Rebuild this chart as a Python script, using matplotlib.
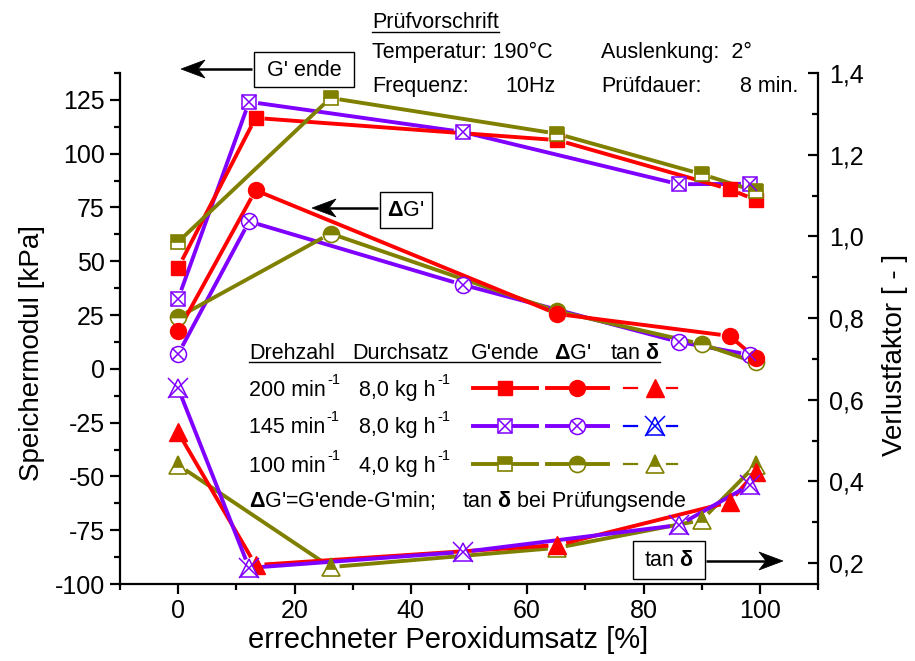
import numpy as np
import matplotlib
matplotlib.use("Agg")
import matplotlib.pyplot as plt
from matplotlib.ticker import MultipleLocator, FuncFormatter
from matplotlib.patches import Rectangle, Polygon

plt.rcParams["font.family"] = ["Liberation Sans", "DejaVu Sans"]
plt.rcParams["mathtext.fontset"] = "custom"
plt.rcParams["mathtext.rm"] = "Liberation Sans"
plt.rcParams["mathtext.bf"] = "Liberation Sans:bold"
plt.rcParams["mathtext.it"] = "Liberation Sans:italic"
plt.rcParams["axes.unicode_minus"] = False

# ---- data -------------------------------------------------------------
# peroxide conversion [%]
x_200 = [0, 13.3, 65.2, 94.8, 99.3]
x_145 = [0, 12.2, 48.9, 86.1, 98.3]
x_100 = [0, 26.2, 65.1, 90.0, 99.3]

# storage modulus at end of test, G'ende [kPa]
gende_200 = [47.0, 116.6, 106.3, 83.5, 78.5]
gende_145 = [32.6, 124.1, 110.1, 85.8, 86.0]
gende_100 = [59.0, 125.9, 109.3, 90.5, 82.5]

# Delta G' = G'ende - G'min [kPa]
dg_200 = [17.6, 83.0, 25.5, 15.3, 5.0]
dg_145 = [6.9, 68.5, 39.1, 12.5, 6.5]
dg_100 = [24.0, 62.9, 26.8, 11.5, 3.0]

# loss factor tan delta at end of test [-]
tan_200 = [0.52, 0.195, 0.244, 0.349, 0.423]
tan_145 = [0.628, 0.188, 0.227, 0.293, 0.391]
tan_100 = [0.44, 0.19, 0.237, 0.305, 0.44]

x_ticks = [0, 20, 40, 60, 80, 100]
left_ticks = [-100, -75, -50, -25, 0, 25, 50, 75, 100, 125]
right_ticks = [0.2, 0.4, 0.6, 0.8, 1.0, 1.2, 1.4]

RED = "#FF0000"
PUR = "#8000FF"
OLV = "#808000"
BLU = "#0000FF"

W, H = 915, 661
fig = plt.figure(figsize=(W / 100, H / 100), dpi=100)
ax = fig.add_axes([120 / W, 1 - 584 / H, (818 - 120) / W, (584 - 73) / H])
ax2 = ax.twinx()

ax.set_xlim(-10, 110)
ax.set_ylim(-100, 137.5)
ax2.set_ylim(0.1486, 1.4)

for s in ("top", "right"):
    ax.spines[s].set_visible(False)
for s in ("top", "left", "bottom"):
    ax2.spines[s].set_visible(False)
for a in (ax, ax2):
    for s in a.spines.values():
        s.set_linewidth(1.6)

ax.set_xticks(x_ticks)
ax.xaxis.set_minor_locator(MultipleLocator(10))
ax.set_yticks(left_ticks)
ax.yaxis.set_minor_locator(MultipleLocator(12.5))
ax.tick_params(axis="both", which="major", direction="out", length=7, width=1.6,
               labelsize=18, pad=4)
ax.tick_params(axis="both", which="minor", direction="out", length=4, width=1.6)
ax.tick_params(axis="y", which="both", right=False)

ax2.set_yticks(right_ticks)
ax2.yaxis.set_minor_locator(MultipleLocator(0.1))
ax2.yaxis.set_major_formatter(FuncFormatter(lambda v, p: f"{v:.1f}".replace(".", ",")))
ax2.tick_params(axis="y", which="major", direction="in", length=7, width=1.6,
                labelsize=18, pad=8)
ax2.tick_params(axis="y", which="minor", direction="in", length=4, width=1.6)


def gapped_line(a, xs, ys, color, lw=2.8, gap=9, z=2):
    """Connect points like Origin does: each segment stops short of its markers."""
    pts = a.transData.transform(np.column_stack([xs, ys]))
    inv = a.transData.inverted()
    for p0, p1 in zip(pts[:-1], pts[1:]):
        d = p1 - p0
        L = np.hypot(*d)
        u = d / L
        seg = inv.transform(np.array([p0 + u * gap, p1 - u * gap]))
        a.plot(seg[:, 0], seg[:, 1], color=color, lw=lw, solid_capstyle="butt",
               zorder=z)


MS = {"s": 10.5, "o": 11.5, "^": 12.5}


def markers(a, xs, ys, shape, color, style, z=3):
    ms = MS[shape]
    if style == "filled":
        a.plot(xs, ys, ls="none", marker=shape, ms=ms, mfc=color, mec=color,
               mew=1.0, zorder=z)
    elif style == "half":
        a.plot(xs, ys, ls="none", marker=shape, ms=ms, fillstyle="top", mfc=color,
               markerfacecoloralt="white", mec=color, mew=1.2, zorder=z)
    elif style == "cross":
        a.plot(xs, ys, ls="none", marker=shape, ms=ms, mfc="white", mec=color,
               mew=1.1, zorder=z)
        xs_ms = ms * (0.72 if shape == "o" else (1.15 if shape == "^" else 1.0))
        a.plot(xs, ys, ls="none", marker="x", ms=xs_ms, mec=color, mew=1.1,
               zorder=z + 0.1)


# G'ende
gapped_line(ax, x_145, gende_145, PUR)
gapped_line(ax, x_200, gende_200, RED)
gapped_line(ax, x_100, gende_100, OLV)
markers(ax, x_145, gende_145, "s", PUR, "cross")
markers(ax, x_200, gende_200, "s", RED, "filled")
markers(ax, x_100, gende_100, "s", OLV, "half")

# Delta G'
gapped_line(ax, x_145, dg_145, PUR)
gapped_line(ax, x_100, dg_100, OLV)
gapped_line(ax, x_200, dg_200, RED)
markers(ax, x_145, dg_145, "o", PUR, "cross")
markers(ax, x_100, dg_100, "o", OLV, "half")
markers(ax, x_200, dg_200, "o", RED, "filled")

# tan delta
gapped_line(ax2, x_100, tan_100, OLV)
gapped_line(ax2, x_200, tan_200, RED)
gapped_line(ax2, x_145, tan_145, PUR)
markers(ax2, x_100, tan_100, "^", OLV, "half")
markers(ax2, x_200, tan_200, "^", RED, "filled")
markers(ax2, x_145, tan_145, "^", PUR, "cross")

# axis titles
fig.text(32 / W, 1 - 353 / H, "Speichermodul [kPa]", rotation=90, ha="center",
         va="center", fontsize=20)
fig.text(895 / W, 1 - 355 / H, "Verlustfaktor [ - ]", rotation=90, ha="center",
         va="center", fontsize=20)
fig.text(448 / W, 1 - 640 / H, "errechneter Peroxidumsatz [%]", ha="center",
         va="center", fontsize=21)

# ---- annotation layer in pixel coordinates ----------------------------
ov = fig.add_axes([0, 0, 1, 1])
ov.set_xlim(0, W)
ov.set_ylim(H, 0)
ov.axis("off")

FS = 15.5
renderer = fig.canvas.get_renderer()


def right_edge(t):
    """x position (overlay pixels, same as figure pixels) of a text's right end."""
    return t.get_window_extent(renderer=renderer).x1


def underline(t, y):
    bb = t.get_window_extent(renderer=renderer)
    ov.plot([bb.x0, bb.x1], [y, y], color="black", lw=1.0)


# test conditions
t = ov.text(372, 28, "Prüfvorschrift", fontsize=FS, va="baseline")
underline(t, 32)
ov.text(372, 58, "Temperatur: 190°C", fontsize=FS, va="baseline")
ov.text(601, 58, "Auslenkung:  2°", fontsize=FS, va="baseline")
ov.text(372, 92, "Frequenz:", fontsize=FS, va="baseline")
ov.text(505, 92, "10Hz", fontsize=FS, va="baseline")
ov.text(601, 92, "Prüfdauer:", fontsize=FS, va="baseline")
ov.text(740, 92, "8 min.", fontsize=FS, va="baseline")


def arrow(x_tail, x_tip, y):
    """Straight shaft with a notched arrowhead at the tip."""
    s = np.sign(x_tip - x_tail)
    hl, hw, notch = 24, 9, 7
    ov.plot([x_tail, x_tip - s * (hl - notch)], [y, y], color="black", lw=1.8,
            solid_capstyle="butt")
    head = [(x_tip, y), (x_tip - s * hl, y - hw), (x_tip - s * (hl - notch), y),
            (x_tip - s * hl, y + hw)]
    ov.add_patch(Polygon(head, closed=True, fc="black", ec="black", lw=0.5))


# pointer boxes
ov.add_patch(Rectangle((254, 52), 100, 35, fill=False, lw=1.0, ec="black"))
ov.text(304, 70, "G' ende", fontsize=FS, ha="center", va="center")
arrow(252, 181, 69)

ov.add_patch(Rectangle((380, 192), 52, 36, fill=False, lw=1.0, ec="black"))
ov.text(406, 211, r"$\mathbf{\Delta}$G'", fontsize=FS, ha="center", va="center")
arrow(378, 312, 208)

ov.add_patch(Rectangle((633, 541), 72, 38, fill=False, lw=1.0, ec="black"))
ov.text(669, 561, r"tan $\mathbf{\delta}$", fontsize=FS, ha="center", va="center")
arrow(706, 783, 561)

# legend table
ov.text(249, 359, "Drehzahl", fontsize=FS, va="baseline")
ov.text(352, 359, "Durchsatz", fontsize=FS, va="baseline")
ov.text(471, 359, "G'ende", fontsize=FS, va="baseline")
ov.text(554, 359, r"$\mathbf{\Delta}$G'", fontsize=FS, va="baseline")
ov.text(610, 359, r"tan $\mathbf{\delta}$", fontsize=FS, va="baseline")
ov.plot([249, 660], [362, 362], color="black", lw=1.0)

rows = [
    (396, 388, "200", "8,0", RED, RED, "filled", "filled", "filled"),
    (433, 426, "145", "8,0", PUR, BLU, "cross", "cross", "cross"),
    (472, 464, "100", "4,0", OLV, OLV, "half", "half", "half"),
]
for base, yc, rpm, thr, col, tcol, s1, s2, s3 in rows:
    t1 = ov.text(249, base, rpm + " min", fontsize=FS, va="baseline")
    ov.text(right_edge(t1) + 1.5, base - 12, "-1", fontsize=10.5, va="baseline")
    t2 = ov.text(359, base, thr + " kg h", fontsize=FS, va="baseline")
    ov.text(right_edge(t2) + 1.5, base - 12, "-1", fontsize=10.5, va="baseline")
    ov.plot([473, 537], [yc, yc], color=col, lw=2.8, zorder=2)
    markers(ov, [505], [yc], "s", col, s1)
    ov.plot([547, 608], [yc, yc], color=col, lw=2.8, zorder=2)
    markers(ov, [577], [yc], "o", col, s2)
    ov.plot([624, 637], [yc, yc], color=tcol, lw=1.6, zorder=2)
    ov.plot([667, 677], [yc, yc], color=tcol, lw=1.6, zorder=2)
    markers(ov, [655], [yc], "^", tcol, s3)

ov.text(249, 507, r"$\mathbf{\Delta}$G'=G'ende-G'min;", fontsize=FS, va="baseline")
ov.text(462, 507, r"tan $\mathbf{\delta}$ bei Prüfungsende", fontsize=FS,
        va="baseline")

fig.savefig("out.png", dpi=100)
